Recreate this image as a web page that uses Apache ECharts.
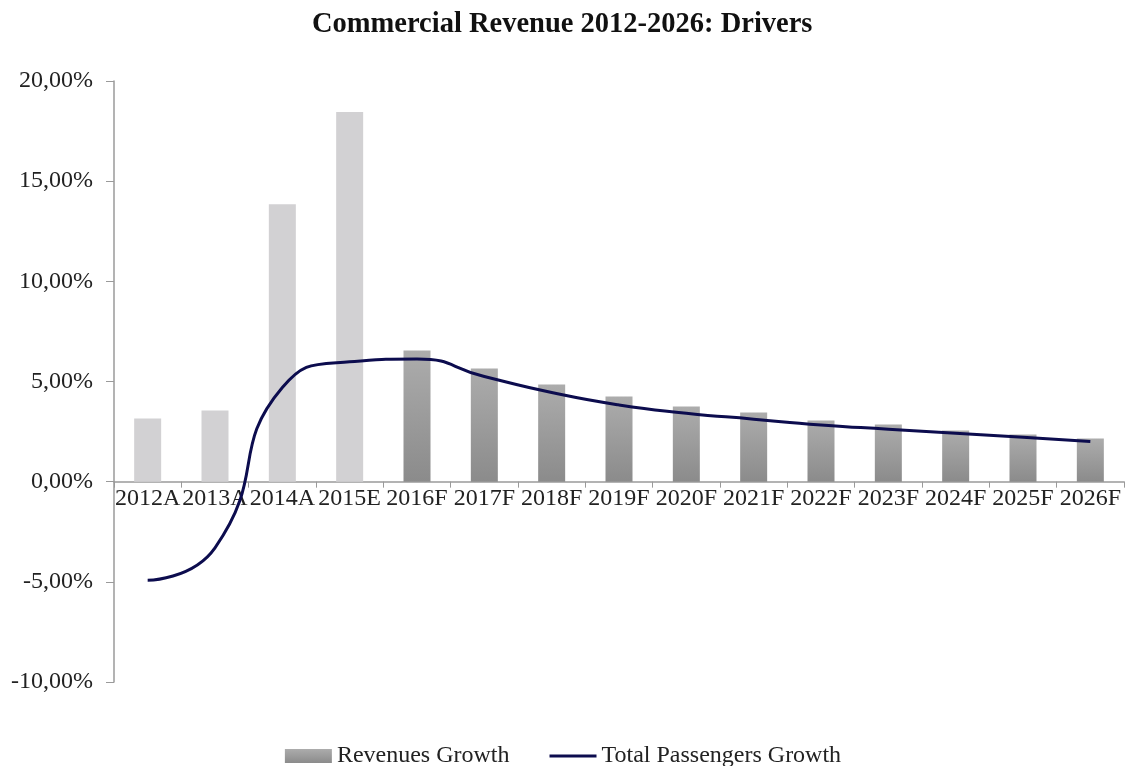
<!DOCTYPE html>
<html>
<head>
<meta charset="utf-8">
<title>Commercial Revenue 2012-2026: Drivers</title>
<script src="https://cdn.jsdelivr.net/npm/echarts@6/dist/echarts.min.js"></script>
<style>
  html, body { margin: 0; padding: 0; background: #ffffff; }
  #chart { width: 1126px; height: 766px; }
</style>
</head>
<body>
<div id="chart"></div>
<script>
// Years: A = actual, E = estimate, F = forecast
const categories = ['2012A', '2013A', '2014A', '2015E', '2016F', '2017F', '2018F', '2019F',
  '2020F', '2021F', '2022F', '2023F', '2024F', '2025F', '2026F'];

// Growth rates in percent
const revenuesGrowth = [3.15, 3.55, 13.85, 18.45, 6.55, 5.65, 4.85, 4.25,
  3.75, 3.45, 3.05, 2.85, 2.55, 2.35, 2.15];
const passengersGrowth = [-4.92, -3.3, 4.7, 5.98, 6.12, 5.25, 4.45, 3.83,
  3.42, 3.12, 2.83, 2.62, 2.42, 2.22, 2.0];

// Number of leading years shown in the lighter "historical" shade
const historicalCount = 4;

const yTicks = { min: -10, max: 20, interval: 5 };

const FONT = '"Liberation Serif", "Times New Roman", serif';

const GRID = { left: 114, right: 2, top: 81, bottom: 84 };
const CHART_H = 766;

const forecastFill = new echarts.graphic.LinearGradient(0, 0, 0, 1, [
  { offset: 0, color: '#acacac' },
  { offset: 1, color: '#8b8b8b' }
]);

const barData = revenuesGrowth.map((v, i) => i < historicalCount
  ? { value: v, itemStyle: { color: '#d2d1d3' } }
  : v);

// Category axis sits on the 0% line: shift it up from the grid bottom
const plotH = CHART_H - GRID.top - GRID.bottom;
const zeroShift = plotH * (0 - yTicks.min) / (yTicks.max - yTicks.min);

const chart = echarts.init(document.getElementById('chart'), null, { renderer: 'canvas' });

chart.setOption({
  backgroundColor: '#ffffff',
  animation: false,
  textStyle: { fontFamily: FONT },
  title: {
    text: 'Commercial Revenue 2012-2026: Drivers',
    left: 307,
    top: 5,
    textStyle: { fontFamily: FONT, fontSize: 28.5, fontWeight: 'bold', color: '#111111' }
  },
  legend: {
    top: 739,
    left: 'center',
    itemGap: 40,
    itemWidth: 47,
    itemHeight: 14,
    textStyle: { fontFamily: FONT, fontSize: 24, color: '#222222' },
    data: [
      { name: 'Revenues Growth', icon: 'rect' },
      { name: 'Total Passengers Growth', icon: 'path://M0,0 L47,0 L47,3 L0,3 Z' }
    ]
  },
  grid: { left: GRID.left, right: GRID.right, top: GRID.top, bottom: GRID.bottom, containLabel: false },
  xAxis: {
    type: 'category',
    data: categories,
    offset: -zeroShift,
    axisLine: { onZero: false, lineStyle: { color: '#9a9a9a', width: 1.5 } },
    axisTick: { show: true, length: 6, lineStyle: { color: '#9a9a9a' } },
    axisLabel: { fontFamily: FONT, fontSize: 24, color: '#222222', margin: 5, interval: 0 },
    splitLine: { show: false }
  },
  yAxis: {
    type: 'value',
    min: yTicks.min,
    max: yTicks.max,
    interval: yTicks.interval,
    axisLine: { show: true, lineStyle: { color: '#9a9a9a', width: 1.5 } },
    axisTick: { show: true, length: 8, lineStyle: { color: '#9a9a9a' } },
    axisLabel: {
      fontFamily: FONT, fontSize: 24, color: '#222222', margin: 21,
      formatter: v => v.toFixed(2).replace('.', ',') + '%'
    },
    splitLine: { show: false }
  },
  series: [
    {
      name: 'Revenues Growth',
      type: 'bar',
      data: barData,
      barWidth: 27,
      itemStyle: { color: forecastFill }
    },
    {
      name: 'Total Passengers Growth',
      type: 'line',
      data: passengersGrowth,
      smooth: 0.55,
      symbol: 'none',
      showSymbol: false,
      lineStyle: { color: '#0c0c4e', width: 3 },
      itemStyle: { color: '#0c0c4e' },
      z: 5
    }
  ]
});
</script>
</body>
</html>
